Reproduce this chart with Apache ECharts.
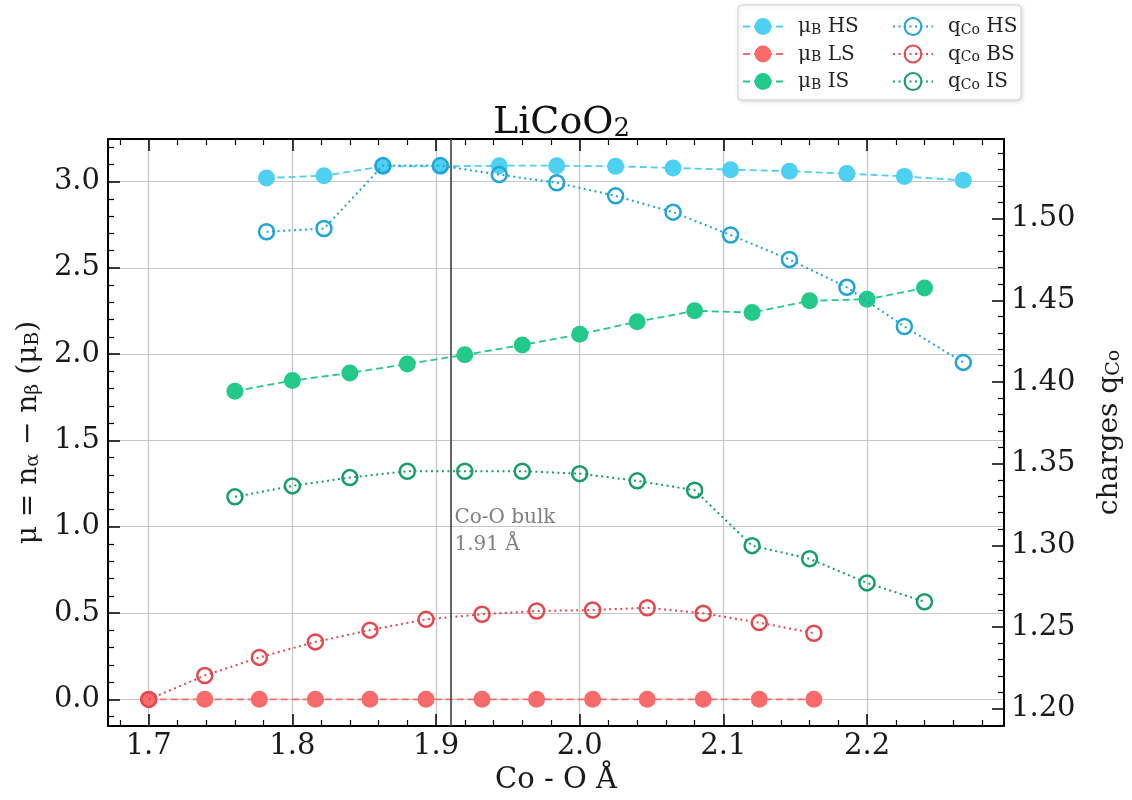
<!DOCTYPE html>
<html><head><meta charset="utf-8">
<script src="https://cdn.jsdelivr.net/npm/echarts@6/dist/echarts.min.js"></script>
<style>html,body{margin:0;padding:0;background:#fff}#c{width:1132px;height:800px}</style>
</head><body><div id="c"></div>
<script>
// ---- data ----
const xHS  = [1.782, 1.822, 1.863, 1.903, 1.944, 1.984, 2.025, 2.065, 2.105, 2.146, 2.186, 2.226, 2.267];
const muHS = [3.021, 3.034, 3.088, 3.088, 3.092, 3.092, 3.088, 3.079, 3.069, 3.060, 3.046, 3.030, 3.007];
const qHS  = [1.492, 1.494, 1.5325, 1.5325, 1.527, 1.522, 1.514, 1.504, 1.490, 1.475, 1.458, 1.434, 1.412];

const xLS  = [1.700, 1.739, 1.777, 1.816, 1.854, 1.893, 1.932, 1.970, 2.009, 2.047, 2.086, 2.125, 2.163];
const muLS = [0, 0, 0, 0, 0, 0, 0, 0, 0, 0, 0, 0, 0];
const qBS  = [1.2057, 1.2203, 1.2314, 1.2409, 1.2481, 1.2547, 1.2578, 1.2598, 1.2604, 1.2618, 1.2584, 1.2527, 1.2462];

const xIS  = [1.760, 1.800, 1.840, 1.880, 1.920, 1.960, 2.000, 2.040, 2.080, 2.120, 2.160, 2.200, 2.240];
const muIS = [1.785, 1.847, 1.891, 1.943, 1.996, 2.053, 2.115, 2.188, 2.251, 2.241, 2.309, 2.318, 2.383];
const qIS  = [1.3297, 1.3364, 1.3415, 1.3454, 1.3454, 1.3454, 1.3439, 1.3395, 1.3338, 1.2998, 1.2918, 1.2770, 1.2655];

const bulkX = 1.91;
const bulkLabelY = 0.975;
const bulkText = 'Co-O bulk\n1.91 Å';

const xRange  = [1.67165, 2.29535];
const muRange = [-0.1546, 3.2466];
const qRange  = [1.1894, 1.5488];

const titleText = '{a|LiCoO}{b|2}';
const xName = 'Co - O Å';
const yName = '{t|μ = n}{s|α}{t| − n}{s|β}{t| (μ}{s|B}{t|)}';
const y2Name = '{t|charges q}{s|Co}';
const legendLabels = {
  'μB HS': '{t|μ}{s|B}{t| HS}', 'μB LS': '{t|μ}{s|B}{t| LS}', 'μB IS': '{t|μ}{s|B}{t| IS}',
  'qCo HS': '{t|q}{s|Co}{t| HS}', 'qCo BS': '{t|q}{s|Co}{t| BS}', 'qCo IS': '{t|q}{s|Co}{t| IS}'
};

// ---- styling ----
const FONT = 'DejaVu Serif';
const C = {
  hs: '#4dd0f2', qhs: '#1fa5d6',
  ls: '#f96a6a', qbs: '#e4484f',
  is: '#22c98b', qis: '#169d69'
};
const pair = (xs, ys) => xs.map((x, i) => [x, ys[i]]);

function axisBase() {
  return {
    axisLine: {show: true, onZero: false, lineStyle: {color: '#000', width: 2}},
    axisTick: {show: true, inside: true, length: 12, lineStyle: {color: '#000', width: 1.5}},
    minorTick: {show: true, splitNumber: 5, length: 6, lineStyle: {color: '#000', width: 1.2}},
    axisLabel: {color: '#1a1a1a', fontFamily: FONT, fontSize: 29, showMinLabel: false, showMaxLabel: false},
    splitLine: {show: false}
  };
}
const gridLine = {show: true, lineStyle: {color: '#c6c6c6', width: 1.2}};

function ser(name, xs, ys, yIdx, color, filled) {
  return {
    name, type: 'line', xAxisIndex: 0, yAxisIndex: yIdx,
    data: pair(xs, ys),
    symbol: 'circle', symbolSize: filled ? 17 : 15,
    itemStyle: filled ? {color: color} : {color: 'rgba(255,255,255,0)', borderColor: color, borderWidth: 2.5},
    lineStyle: {color: color, width: filled ? 1.8 : 2, type: filled ? [7, 4] : [2, 3.5]},
    emphasis: {disabled: true},
    z: filled ? 3 : 4
  };
}

const sHS = ser('μB HS', xHS, muHS, 0, C.hs, true);
const sLS = ser('μB LS', xLS, muLS, 0, C.ls, true);
const sIS = ser('μB IS', xIS, muIS, 0, C.is, true);
const qsHS = ser('qCo HS', xHS, qHS, 1, C.qhs, false);
const qsBS = ser('qCo BS', xLS, qBS, 1, C.qbs, false);
const qsIS = ser('qCo IS', xIS, qIS, 1, C.qis, false);

sLS.markLine = {
  silent: true, symbol: ['none', 'none'], animation: false,
  label: {show: false},
  lineStyle: {color: '#555', width: 1.8, type: 'solid'},
  data: [{xAxis: bulkX}]
};
sLS.markPoint = {
  silent: true, animation: false,
  symbol: 'circle', symbolSize: 0,
  label: {show: true, position: 'right', distance: 4, formatter: bulkText,
          color: '#808080', fontFamily: FONT, fontSize: 20, lineHeight: 27, align: 'left'},
  data: [{coord: [bulkX, bulkLabelY]}]
};

const legendRich = {
  t: {fontFamily: FONT, fontSize: 20, color: '#222', lineHeight: 21, verticalAlign: 'bottom'},
  s: {fontFamily: FONT, fontSize: 14, color: '#222', lineHeight: 13, verticalAlign: 'bottom'}
};
function legend(left, names) {
  return {
    orient: 'vertical', left: left, top: 17, padding: 0,
    itemWidth: 40, itemHeight: 21, itemGap: 7.5,
    data: names, selectedMode: false,
    formatter: n => legendLabels[n],
    textStyle: {fontFamily: FONT, fontSize: 20, color: '#222', padding: [0, 0, 0, 10], rich: legendRich}
  };
}

const option = {
  animation: false,
  backgroundColor: '#fff',
  title: {
    text: titleText, left: 561.5, textAlign: 'center', top: 98, padding: 0,
    textStyle: {fontWeight: 'normal', rich: {
      a: {fontFamily: FONT, fontSize: 38, fontWeight: 'normal', color: '#111', lineHeight: 44, verticalAlign: 'bottom'},
      b: {fontFamily: FONT, fontSize: 26, fontWeight: 'normal', color: '#111', lineHeight: 26, verticalAlign: 'bottom'}
    }}
  },
  graphic: [{
    type: 'rect', z: -1, silent: true,
    shape: {x: 738, y: 5, width: 283, height: 95, r: 4},
    style: {fill: '#fff', stroke: '#d2d2d2', lineWidth: 1,
            shadowBlur: 4, shadowColor: 'rgba(0,0,0,0.15)', shadowOffsetX: 1, shadowOffsetY: 1}
  }],
  legend: [
    legend(742, ['μB HS', 'μB LS', 'μB IS']),
    legend(892, ['qCo HS', 'qCo BS', 'qCo IS'])
  ],
  grid: {left: 108, right: 117, top: 139, bottom: 71, containLabel: false},
  xAxis: [
    Object.assign(axisBase(), {
      type: 'value', position: 'bottom', min: xRange[0], max: xRange[1], splitNumber: 6,
      name: xName, nameLocation: 'middle', nameGap: 40,
      nameTextStyle: {fontFamily: FONT, fontSize: 29, color: '#1a1a1a'},
      splitLine: gridLine,
      axisLabel: {color: '#1a1a1a', fontFamily: FONT, fontSize: 29, margin: 6,
                  showMinLabel: false, showMaxLabel: false, formatter: v => v.toFixed(1)}
    }),
    Object.assign(axisBase(), {
      type: 'value', position: 'top', min: xRange[0], max: xRange[1], splitNumber: 6,
      axisLabel: {show: false}
    })
  ],
  yAxis: [
    Object.assign(axisBase(), {
      type: 'value', position: 'left', min: muRange[0], max: muRange[1], splitNumber: 7,
      name: yName, nameLocation: 'middle', nameGap: 62, nameRotate: 90,
      nameTextStyle: {rich: {
        t: {fontFamily: FONT, fontSize: 28, color: '#1a1a1a', lineHeight: 32, verticalAlign: 'bottom'},
        s: {fontFamily: FONT, fontSize: 19, color: '#1a1a1a', lineHeight: 14, verticalAlign: 'bottom'}
      }},
      splitLine: gridLine,
      axisLabel: {color: '#1a1a1a', fontFamily: FONT, fontSize: 29, margin: 8,
                  showMinLabel: false, showMaxLabel: false, formatter: v => v.toFixed(1)}
    }),
    Object.assign(axisBase(), {
      type: 'value', position: 'right', min: qRange[0], max: qRange[1], splitNumber: 7,
      name: y2Name, nameLocation: 'middle', nameGap: 88, nameRotate: 90,
      nameTextStyle: {rich: {
        t: {fontFamily: FONT, fontSize: 28, color: '#1a1a1a', lineHeight: 32, verticalAlign: 'bottom'},
        s: {fontFamily: FONT, fontSize: 19, color: '#1a1a1a', lineHeight: 14, verticalAlign: 'bottom'}
      }},
      axisLabel: {color: '#1a1a1a', fontFamily: FONT, fontSize: 29, margin: 7,
                  showMinLabel: false, showMaxLabel: false, formatter: v => v.toFixed(2)}
    })
  ],
  series: [sHS, sLS, sIS, qsHS, qsBS, qsIS]
};

const chart = echarts.init(document.getElementById('c'), null, {renderer: 'canvas'});
chart.setOption(option);
</script>
</body></html>
